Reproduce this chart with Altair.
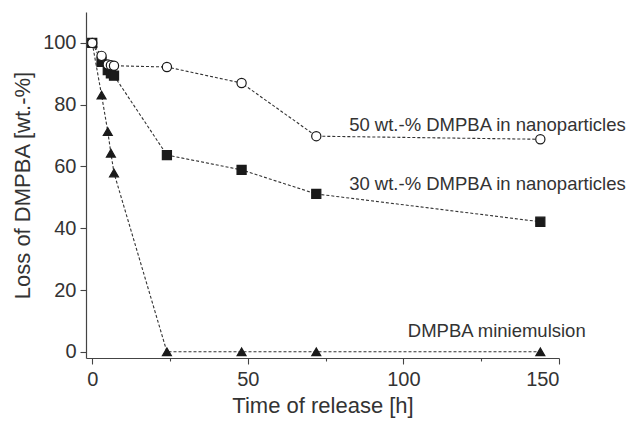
import altair as alt
import pandas as pd

# ---- data ----
t_50 = [0, 3, 5, 6, 7, 24, 48, 72, 144]
v_50 = [100, 95.8, 93.0, 92.8, 92.6, 92.2, 87.0, 69.8, 68.8]

t_30 = [0, 3, 5, 6, 7, 24, 48, 72, 144]
v_30 = [100, 93.9, 91.2, 90.1, 89.4, 63.7, 58.9, 51.1, 42.1]

t_mini = [0, 3, 5, 6, 7, 24, 48, 72, 144]
v_mini = [100, 83.1, 71.3, 64.3, 57.9, 0, 0, 0, 0]

series_names = ["50 wt.-%", "30 wt.-%", "miniemulsion"]

label_texts = ["50 wt.-% DMPBA in nanoparticles",
               "30 wt.-% DMPBA in nanoparticles",
               "DMPBA miniemulsion"]
label_t = [127, 127, 130]
label_v = [73.5, 54.4, 6.9]

x_ticks = [0, 25, 50, 75, 100, 125, 150]
y_ticks = [0, 10, 20, 30, 40, 50, 60, 70, 80, 90, 100, 110]

rows = []
# drawing order: miniemulsion first, open circles last (on top)
for name, ts, vs in zip(series_names[::-1], [t_mini, t_30, t_50], [v_mini, v_30, v_50]):
    for t, v in zip(ts, vs):
        rows.append({"series": name, "t": t, "v": v})
df = pd.DataFrame(rows)
labels = pd.DataFrame({"text": label_texts, "t": label_t, "v": label_v})

FONT = "Liberation Sans"
INK = "#1a1a1a"
LBL = 20

x_enc = alt.X("t:Q", scale=alt.Scale(domain=[-2, 150], nice=False, zero=False),
              axis=alt.Axis(title="Time of release [h]", values=x_ticks,
                            labelExpr="datum.value % 50 === 0 ? datum.label : ''",
                            tickSize={"condition": {"test": "datum.value % 50 === 0", "value": 6}, "value": 3},
                            labelFontSize=LBL, titleFontSize=22,
                            grid=False, titlePadding=6, labelPadding=5))
y_enc = alt.Y("v:Q", scale=alt.Scale(domain=[-2, 110], nice=False, zero=False),
              axis=alt.Axis(title="Loss of DMPBA [wt.-%]", values=y_ticks,
                            labelExpr="datum.value % 20 === 0 && datum.value <= 100 ? datum.label : ''",
                            tickSize={"condition": {"test": "datum.value % 20 === 0 && datum.value <= 100", "value": 6}, "value": 3},
                            labelFontSize=LBL, titleFontSize=22,
                            grid=False, titlePadding=8, labelPadding=4))

lines = alt.Chart(df).mark_line(strokeDash=[3, 2], strokeWidth=1.1, color="#333333").encode(
    x=x_enc, y=y_enc, detail="series:N")

points = alt.Chart(df).mark_point(filled=False, strokeWidth=1.2, opacity=1).encode(
    x="t:Q", y="v:Q",
    shape=alt.Shape("series:N", scale=alt.Scale(domain=series_names,
                                                 range=["circle", "square", "triangle-up"]), legend=None),
    fill=alt.Fill("series:N", scale=alt.Scale(domain=series_names,
                                               range=["white", INK, INK]), legend=None),
    size=alt.Size("series:N", scale=alt.Scale(domain=series_names, range=[85, 80, 110]), legend=None),
    stroke=alt.value(INK),
)

texts = alt.Chart(labels).mark_text(font=FONT, fontSize=18.5, color="#333333",
                                    align="center", baseline="middle").encode(
    x="t:Q", y="v:Q", text="text:N")

chart = alt.layer(lines, points, texts).properties(
    width=473, height=346,
    autosize=alt.AutoSizeParams(type="none"),
    padding={"left": 86, "top": 12, "right": 72, "bottom": 63},
).configure_view(stroke=None).configure_axis(
    labelFont=FONT, titleFont=FONT,
    labelColor="#333333", titleColor="#333333", titleFontWeight="normal",
    domainColor="#444444", tickColor="#444444", domainWidth=1.2, tickWidth=1.1,
)

chart.save("out.html", embed_options={"renderer": "svg", "actions": False})
